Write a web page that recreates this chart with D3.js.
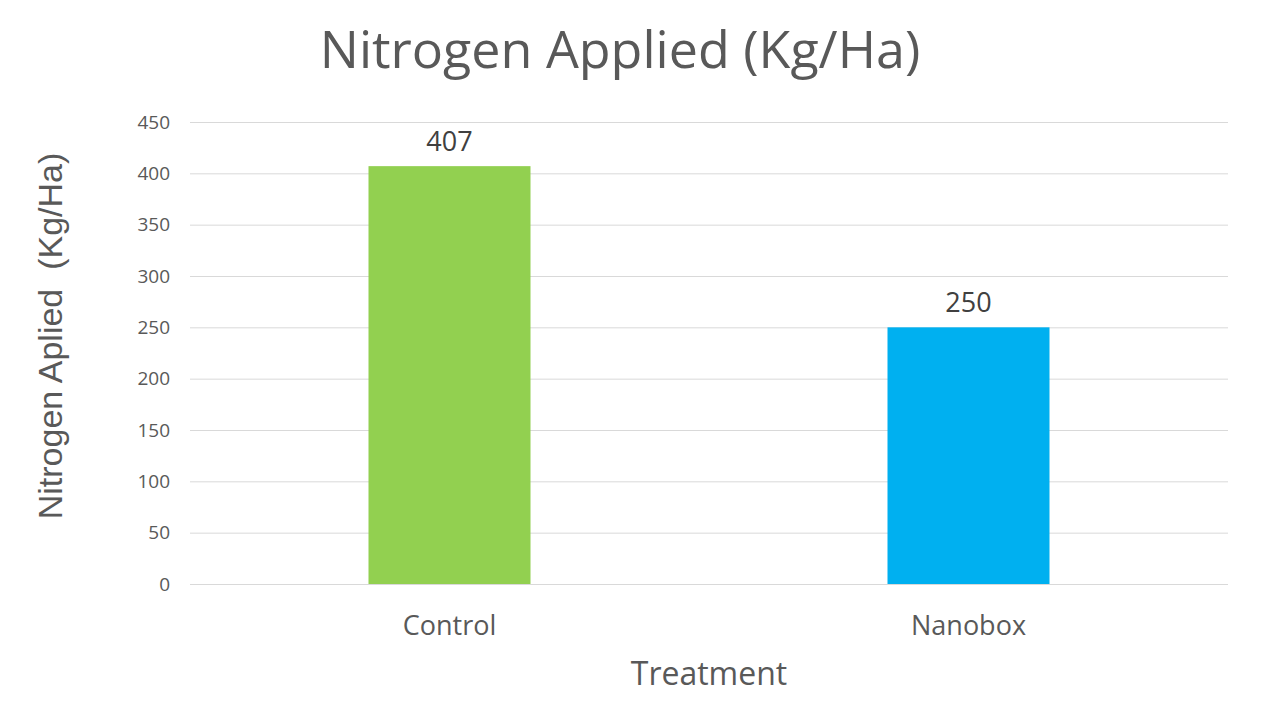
<!DOCTYPE html>
<html><head><meta charset="utf-8">
<script src="https://cdn.jsdelivr.net/npm/d3@7"></script>
<style>body{margin:0;background:#fff}svg{display:block}</style>
</head><body>
<script>
const categories = ["Control", "Nanobox"];
const values = [407, 250];
const barColors = ["#92D050", "#00B0F0"];
const yTicks = [0, 50, 100, 150, 200, 250, 300, 350, 400, 450];

const W = 1280, H = 720;
const m = {left: 190, right: 52, top: 122, bottom: 136};
const svg = d3.select("body").append("svg").attr("width", W).attr("height", H);

const x = d3.scaleBand().domain(categories).range([m.left, W - m.right]).paddingInner(0).paddingOuter(0);
const y = d3.scaleLinear().domain([0, 450]).range([H - m.bottom, m.top]);
const barW = 162;

// gridlines
svg.append("g").selectAll("line").data(yTicks).join("line")
  .attr("x1", m.left).attr("x2", W - m.right)
  .attr("y1", d => y(d) + 0.5).attr("y2", d => y(d) + 0.5)
  .attr("stroke", "#D9D9D9").attr("stroke-width", 1);

// y tick labels
const yAxis = d3.axisLeft(y).tickValues(yTicks).tickSize(0).tickPadding(0);
const gy = svg.append("g").attr("transform", `translate(${m.left - 20},0)`).call(yAxis);
gy.select(".domain").remove();
gy.selectAll("text").attr("font-family", "'Open Sans', sans-serif").attr("font-size", 19).attr("fill", "#595959");

// bars
svg.append("g").selectAll("rect").data(categories).join("rect")
  .attr("x", d => x(d) + x.bandwidth() / 2 - barW / 2)
  .attr("width", barW)
  .attr("y", (d, i) => y(values[i]))
  .attr("height", (d, i) => y(0) - y(values[i]))
  .attr("fill", (d, i) => barColors[i]);

// data labels
svg.append("g").selectAll("text").data(categories).join("text")
  .attr("x", d => x(d) + x.bandwidth() / 2)
  .attr("y", (d, i) => y(values[i]) - 15)
  .attr("text-anchor", "middle")
  .attr("font-family", "'Open Sans', sans-serif").attr("font-size", 27).attr("fill", "#404040")
  .text((d, i) => values[i]);

// x axis labels
const xAxis = d3.axisBottom(x).tickSize(0).tickPadding(0);
const gx = svg.append("g").attr("transform", `translate(0,${H - m.bottom})`).call(xAxis);
gx.select(".domain").remove();
gx.selectAll("text").attr("dy", null).attr("y", 51)
  .attr("font-family", "'Open Sans', sans-serif").attr("font-size", 27).attr("fill", "#595959");

// axis titles
svg.append("text").attr("x", 709).attr("y", 685).attr("text-anchor", "middle")
  .attr("font-family", "'Open Sans', sans-serif").attr("font-size", 32).attr("fill", "#595959")
  .text("Treatment");

svg.append("text").attr("transform", "translate(62,336) rotate(-90)").attr("text-anchor", "middle")
  .attr("font-family", "'Liberation Sans', Arial, sans-serif").attr("font-size", 34).attr("fill", "#595959")
  .style("white-space", "pre")
  .text("Nitrogen Aplied  (Kg/Ha)");

// chart title
svg.append("text").attr("x", 620).attr("y", 68).attr("text-anchor", "middle")
  .attr("font-family", "'Open Sans', sans-serif").attr("font-size", 52).attr("fill", "#595959")
  .text("Nitrogen Applied (Kg/Ha)");
</script>
</body></html>
